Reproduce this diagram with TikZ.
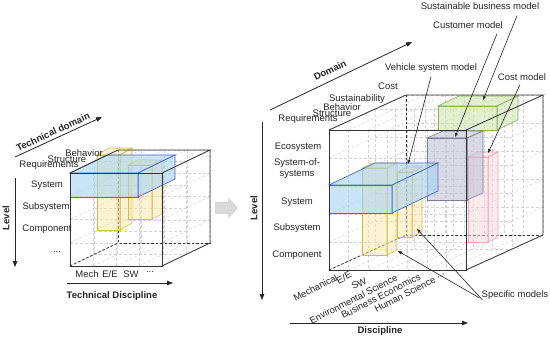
\documentclass[tikz,border=0pt]{standalone}
\usepackage{fontspec}
\setmainfont{Liberation Sans}
\usetikzlibrary{arrows.meta}
\definecolor{bfill}{HTML}{A8D2F2}
\definecolor{bline}{HTML}{4A6CC8}
\definecolor{yfill}{HTML}{FCE7A8}
\definecolor{yline}{HTML}{C8C048}
\definecolor{gfill}{HTML}{CFE6B0}
\definecolor{gline}{HTML}{8CB060}
\definecolor{grfill}{HTML}{BFC2D6}
\definecolor{grline}{HTML}{7C7E90}
\definecolor{pfill}{HTML}{FAD6DC}
\definecolor{pline}{HTML}{EBAAB4}
\newcommand{\obox}[7]{%
  \path[#7] (#1,#2) rectangle (#3,#4);
  \path[#7] (#1,#2) -- ++(#5,#6) -- ++({#3-#1},0) -- (#3,#2) -- cycle;
  \path[#7] (#3,#2) -- ++(#5,#6) -- ++(0,{#4-#2}) -- (#3,#4) -- cycle;
}
% X0 Y0 W H DX DU NC NR {planes}
\newcommand{\cubegrid}[9]{%
  \foreach \t in {#9}{%
    \foreach \i in {0,...,#7}{%
      \draw[gridl] ({#1+#5*\t+#3*\i/#7},{#2-#6*\t}) -- ++(0,#4);
    }
    \foreach \j in {0,...,#8}{%
      \draw[gridl] ({#1+#5*\t},{#2+#4*\j/#8-#6*\t}) -- ++(#3,0);
    }
  }
  \foreach \i in {0,...,#7}{%
    \draw[gridl] ({#1+#3*\i/#7},#2) -- ++(#5,-#6);
    \draw[gridl] ({#1+#3*\i/#7},{#2+#4}) -- ++(#5,-#6);
  }
  \foreach \j in {0,...,#8}{%
    \draw[gridl] (#1,{#2+#4*\j/#8}) -- ++(#5,-#6);
    \draw[gridl] ({#1+#3},{#2+#4*\j/#8}) -- ++(#5,-#6);
  }
}
\tikzset{
  lbl/.style={font=\fontsize{9.5}{11}\selectfont, inner sep=0pt, text=black!85},
  ttl/.style={font=\fontsize{9.5}{11}\selectfont\bfseries, inner sep=0pt, text=black!85},
  axis/.style={line width=0.8pt, black!85, -{Triangle[length=6pt,width=4.5pt]}},
  lead/.style={line width=0.6pt, black!85, -{Triangle[length=4pt,width=3pt]}},
  cubel/.style={line width=0.8pt, black!80},
  hidl/.style={line width=0.8pt, black!80, dash pattern=on 2.5pt off 2pt},
  gridl/.style={gray!35, line width=0.45pt, dash pattern=on 3pt off 2pt},
  bbox/.style={fill=bfill, fill opacity=0.6, draw=bline, line width=0.7pt},
  ybox/.style={fill=yfill, fill opacity=0.5, draw=yline, line width=0.6pt},
  gbox/.style={fill=gfill, fill opacity=0.6, draw=gline, line width=0.6pt},
  grbox/.style={fill=grfill, fill opacity=0.6, draw=grline, line width=0.6pt},
  pbox/.style={fill=pfill, fill opacity=0.5, draw=pline, line width=0.6pt},
}
\begin{document}
\begin{tikzpicture}[x=1pt,y=-1pt]
\useasboundingbox (0,0) rectangle (550,337);
\fill[white] (0,0) rectangle (550,337);

% ================= LEFT CUBE =================
\cubegrid{70}{173}{92}{93}{48}{23}{4}{4}{0,0.5,1}
\draw[hidl] (118,150) -- (118,243) -- (210,243);
\draw[hidl] (70,266) -- (118,243);
\obox{97}{155}{120}{230}{12}{-7}{ybox}
\obox{128}{165}{152}{219}{10}{-5}{ybox}
\obox{70}{173}{138}{197}{37}{-18}{bbox}
\draw[cubel] (70,173) rectangle (162,266);
\draw[cubel] (70,173) -- (118,150) -- (210,150) -- (162,173);
\draw[cubel] (210,150) -- (210,243) -- (162,266);

% left labels
\node[ttl, rotate=24.7] (tdom) at (53,132) {Technical domain};
\coordinate (tdA) at (15,157);
\coordinate (tdB) at (102,117);
\draw[axis] (tdA) -- (tdB);
\node[lbl] (lbeh) at (84,153) {Behavior};
\node[lbl] (lstr) at (67,159) {Structure};
\node[lbl] (lreq) at (49,165) {Requirements};
\node[lbl] (lsys) at (47,185) {System};
\node[lbl] (lsub) at (46,207) {Subsystem};
\node[lbl] (lcom) at (47,229) {Component};
\node[lbl] (ldot) at (57,252) {...};
\coordinate (lvA) at (15,178);
\coordinate (lvB) at (15,267);
\draw[axis] (lvA) -- (lvB);
\node[ttl, rotate=90] (llev) at (6,218) {Level};
\node[lbl] (lmech) at (87,274) {Mech};
\node[lbl] (lee) at (110,274) {E/E};
\node[lbl] (lsw) at (131,274) {SW};
\node[lbl] (ldd) at (150,272) {...};
\coordinate (ldA) at (67,283);
\coordinate (ldB) at (173,283);
\draw[axis] (ldA) -- (ldB);
\node[ttl] (ltd) at (112,296) {Technical Discipline};

% ================= MIDDLE ARROW =================
\fill[gray!30] (215,202) -- (228,202) -- (228,197) -- (238,208) -- (228,219) -- (228,214) -- (215,214) -- cycle;

% ================= RIGHT CUBE =================
\cubegrid{329}{130}{137}{140}{77}{35}{7}{5}{0,0.6,1}
\draw[hidl] (406,95) -- (406,235) -- (543,235);
\draw[hidl] (329,270) -- (406,235);
\obox{438}{106}{497}{130}{21}{-10}{gbox}
\obox{468}{157}{488}{242}{10}{-5}{pbox}
\obox{427}{138}{467}{200}{16}{-7}{grbox}
\obox{397}{172}{412}{237}{10}{-5}{ybox}
\obox{362}{168}{387}{255}{10}{-5}{ybox}
\obox{329}{185}{392}{213}{46}{-22}{bbox}
\draw[cubel] (329,130) rectangle (466,270);
\draw[cubel] (329,130) -- (406,95) -- (543,95) -- (466,130);
\draw[cubel] (543,95) -- (543,235) -- (466,270);

% right axes
\coordinate (rdA) at (270,110);
\coordinate (rdB) at (412,42);
\draw[axis] (rdA) -- (rdB);
\node[ttl, rotate=25.6] (rdom) at (330,70) {Domain};
\coordinate (rlA) at (262,122);
\coordinate (rlB) at (262,300);
\draw[axis] (rlA) -- (rlB);
\node[ttl, rotate=90] (rlev) at (254,208) {Level};
\coordinate (rxA) at (290,323);
\coordinate (rxB) at (468,323);
\draw[axis] (rxA) -- (rxB);
\node[ttl] (rdis) at (380,331) {Discipline};

% right domain labels
\node[lbl] (rcost) at (388,86) {Cost};
\node[lbl] (rsus) at (357,99) {Sustainability};
\node[lbl] (rbeh) at (342,107) {Behavior};
\node[lbl] (rstr) at (332,113) {Structure};
\node[lbl] (rreq) at (308,119) {Requirements};
% right level labels
\node[lbl] (reco) at (298,147) {Ecosystem};
\node[lbl, align=center] (rsos) at (297,169) {System-of-\\systems};
\node[lbl] (rsys) at (297,202) {System};
\node[lbl] (rsub) at (297,228) {Subsystem};
\node[lbl] (rcom) at (297,255) {Component};
% right discipline labels
\node[lbl, rotate=27, anchor=east] (dme) at (337,277) {Mechanical};
\node[lbl, rotate=27, anchor=east] (dee) at (351,274) {E/E};
\node[lbl, rotate=27, anchor=east] (dsw) at (366,280) {SW};
\node[lbl, rotate=27, anchor=east] (den) at (397,277) {Environmental Science};
\node[lbl, rotate=27, anchor=east] (dbu) at (420,276) {Business Economics};
\node[lbl, rotate=27, anchor=east] (dhu) at (435,279) {Human Science};
\node[lbl, rotate=27] (ddd) at (441,276) {...};

% model labels and leaders
\node[lbl] (sbm) at (480,6) {Sustainable business model};
\node[lbl] (cust) at (468,25) {Customer model};
\node[lbl] (veh) at (431,68) {Vehicle system model};
\node[lbl] (costm) at (522,77) {Cost model};
\node[lbl] (spec) at (515,295) {Specific models};
\coordinate (tSbm) at (483,100);
\coordinate (tCust) at (455,137);
\coordinate (tVeh) at (408,164);
\coordinate (tCost) at (488,153);
\coordinate (tSpA) at (398,251);
\coordinate (tSpB) at (417,229);
\draw[lead] ([xshift=37pt,yshift=-6pt]sbm.south) -- (tSbm);
\draw[lead] ([xshift=29pt,yshift=-5pt]cust.south) -- (tCust);
\draw[lead] ([yshift=-4pt]veh.south) -- (tVeh);
\draw[lead] ([xshift=-2pt,yshift=-4pt]costm.south) -- (tCost);
\draw[lead] ([xshift=-2pt,yshift=-3pt]spec.west) -- (tSpA);
\draw[lead] ([xshift=1pt,yshift=-5pt]spec.west) -- (tSpB);
\end{tikzpicture}
\end{document}
